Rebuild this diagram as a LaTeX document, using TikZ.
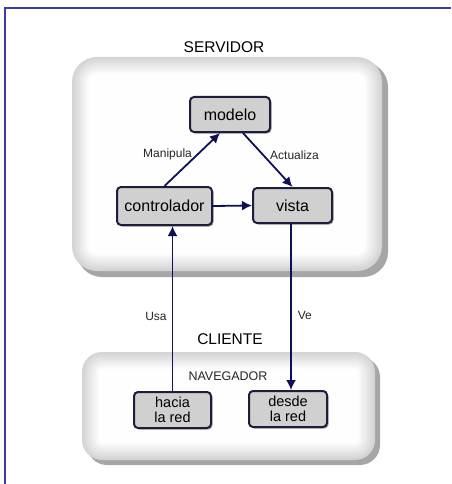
\documentclass[tikz,border=0pt]{standalone}
\usepackage{fontspec}
\setmainfont{Liberation Sans}
\usetikzlibrary{arrows.meta,shadows}

\definecolor{marco}{RGB}{60,60,170}
\definecolor{flecha}{RGB}{16,16,90}
\definecolor{borde}{RGB}{30,30,60}

\tikzset{
  caja/.style={draw=borde, line width=2pt, fill=gray!37, rounded corners=4pt,
    align=center, inner sep=0pt, font=\fontsize{16}{15}\selectfont,
    drop shadow={shadow xshift=1.5pt, shadow yshift=-1.5pt, fill=black, opacity=0.35}},
  caja2/.style={caja, font=\fontsize{14.5}{14.5}\selectfont},
  flechaazul/.style={arrows={-Latex[length=10pt,width=10pt]}, draw=flecha, line width=1.8pt},
  etiqueta/.style={font=\fontsize{12}{12}\selectfont, text=black!85, inner sep=0pt},
  titulo/.style={font=\fontsize{15.5}{15.5}\selectfont, inner sep=0pt},
}

\begin{document}
\begin{tikzpicture}[x=1pt, y=-1pt]
\useasboundingbox (0,0) rectangle (451,484);

% marco exterior
\draw[marco, line width=2pt] (5,484) -- (5,8) -- (451,8);

% caja del servidor
\fill[gray!70, rounded corners=25pt] (77,62) rectangle (388,277);
\foreach \i [evaluate=\i as \c using int(34-3*\i), evaluate=\i as \d using 1.5*\i] in {0,...,11}
  \fill[gray!\c, rounded corners={25pt-\d pt}] ({72+\d},{57+\d}) rectangle ({382-\d},{271-\d});
\node[titulo] (tservidor) at (224,47) {SERVIDOR};

% caja del cliente
\fill[gray!70, rounded corners=20pt] (87,357) rectangle (380,465);
\foreach \i [evaluate=\i as \c using int(34-3*\i), evaluate=\i as \d using 1.5*\i] in {0,...,11}
  \fill[gray!\c, rounded corners={20pt-\d pt}] ({82+\d},{352+\d}) rectangle ({375-\d},{460-\d});
\node[titulo] (tcliente) at (230,339) {CLIENTE};
\node[etiqueta, font=\fontsize{12.5}{12.5}\selectfont] (navegador) at (228,376) {NAVEGADOR};

% componentes
\node[caja, minimum width=80pt, minimum height=35pt] at (230,114.5) (modelo) {modelo};
\node[caja, minimum width=95pt, minimum height=38pt] at (164.5,206) (contr) {controlador};
\node[caja, minimum width=79pt, minimum height=35pt] at (292.5,205.5) (vista) {vista};
\node[caja2, minimum width=77pt, minimum height=36pt] at (172.5,410) (hacia) {hacia\\la red};
\node[caja2, minimum width=78pt, minimum height=36pt] at (288,409) (desde) {desde\\la red};

% flechas dentro del servidor
\draw[flechaazul] (contr.north) to node[etiqueta, pos=0.6, left=5pt] {Manipula} ([xshift=-10pt]modelo.south);
\draw[flechaazul] ([xshift=13pt]modelo.south) to node[etiqueta, pos=0.41, right=6pt] {Actualiza} (vista.north);
\draw[flechaazul] (contr.east) to (vista.west);

% cliente <-> servidor
\draw[flechaazul] (hacia.north) to node[etiqueta, pos=0.45, left=5pt] {Usa} (hacia.north |- contr.south);
\draw[flechaazul] ([xshift=-1.5pt]vista.south) to node[etiqueta, pos=0.55, right=6pt] {Ve} ([xshift=-1.5pt]vista.south |- desde.north);

\end{tikzpicture}
\end{document}
